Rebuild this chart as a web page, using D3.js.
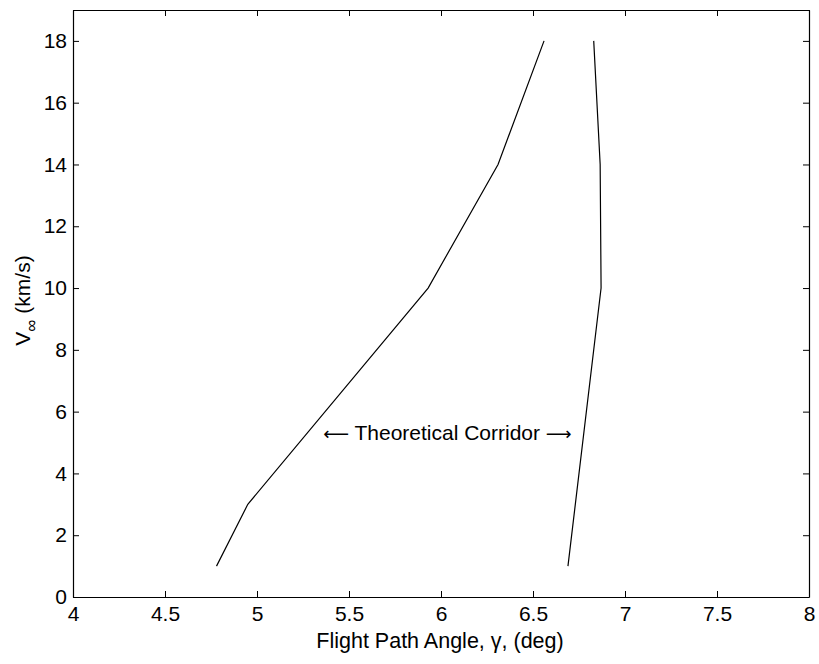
<!DOCTYPE html>
<html><head><meta charset="utf-8">
<script src="https://cdn.jsdelivr.net/npm/d3@7"></script>
<style>body{margin:0;background:#fff}svg{display:block}text{font-family:"Liberation Sans",Arial,sans-serif;fill:#000}</style>
</head><body><svg id="c" width="819" height="664"></svg>
<script>
const xTicks = [4, 4.5, 5, 5.5, 6, 6.5, 7, 7.5, 8];
const yTicks = [0, 2, 4, 6, 8, 10, 12, 14, 16, 18];
const leftV = [1, 3, 10, 14, 18];
const leftGamma = [4.78, 4.95, 5.93, 6.31, 6.56];
const rightV = [1, 10, 14, 18];
const rightGamma = [6.69, 6.87, 6.865, 6.83];

const svg = d3.select("#c");
const L = 73, R = 809, T = 10, B = 597;
const x = d3.scaleLinear().domain([4, 8]).range([L, R]);
const y = d3.scaleLinear().domain([0, 19]).range([B, T]);

const fmt = d => String(d);
const ax = svg.append("g");
ax.append("g").attr("transform", `translate(0,${B})`)
  .call(d3.axisBottom(x).tickValues(xTicks).tickFormat(fmt).tickSizeInner(-6).tickSizeOuter(0).tickPadding(9));
ax.append("g").attr("transform", `translate(0,${T})`)
  .call(d3.axisTop(x).tickValues(xTicks).tickFormat("").tickSizeInner(-6).tickSizeOuter(0));
ax.append("g").attr("transform", `translate(${L},0)`)
  .call(d3.axisLeft(y).tickValues(yTicks).tickFormat(fmt).tickSizeInner(-6).tickSizeOuter(0).tickPadding(6));
ax.append("g").attr("transform", `translate(${R},0)`)
  .call(d3.axisRight(y).tickValues(yTicks).tickFormat("").tickSizeInner(-6).tickSizeOuter(0));
ax.selectAll(".domain").attr("stroke", "#000").attr("stroke-width", 1.2);
ax.selectAll(".tick line").attr("stroke", "#000");
ax.selectAll(".tick text").attr("font-size", 21).attr("font-family", "Liberation Sans, Arial, sans-serif");

const line = d3.line();
svg.append("path").datum(leftV.map((v, i) => [x(leftGamma[i]), y(v)]))
  .attr("d", line).attr("fill", "none").attr("stroke", "#000").attr("stroke-width", 1.2);
svg.append("path").datum(rightV.map((v, i) => [x(rightGamma[i]), y(v)]))
  .attr("d", line).attr("fill", "none").attr("stroke", "#000").attr("stroke-width", 1.2);

const note = svg.append("text").attr("x", x(6.035)).attr("y", y(5.08)).attr("text-anchor", "middle")
  .attr("font-size", 21);
note.append("tspan").attr("font-family", "DejaVu Sans").attr("font-size", 18).text("\u27F5");
note.append("tspan").text(" Theoretical Corridor ");
note.append("tspan").attr("font-family", "DejaVu Sans").attr("font-size", 18).text("\u27F6");

svg.append("text").attr("x", 440).attr("y", 648).attr("text-anchor", "middle")
  .attr("font-size", 21.5).text("Flight Path Angle, \u03B3, (deg)");

const yl = svg.append("text").attr("transform", `translate(30,${(T + B) / 2 - 3}) rotate(-90)`)
  .attr("text-anchor", "middle").attr("font-size", 21);
yl.append("tspan").text("V");
yl.append("tspan").attr("font-size", 17).attr("dy", 7).text("\u221E");
yl.append("tspan").attr("dy", -7).text(" (km/s)");
</script></body></html>
